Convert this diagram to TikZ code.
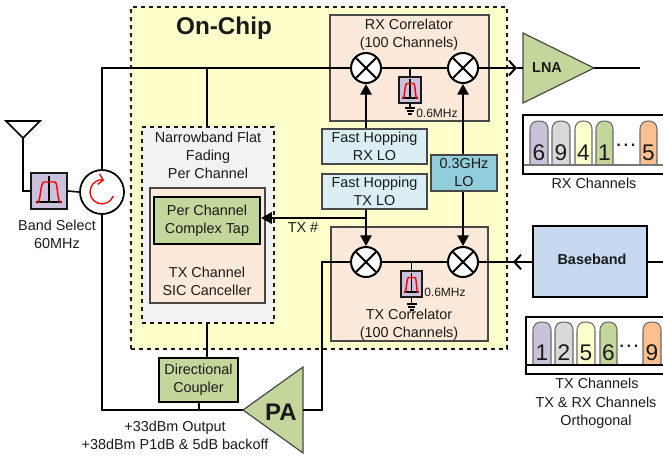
\documentclass[tikz,border=0pt]{standalone}
\usepackage{fontspec}
\setmainfont{Liberation Sans}
\usetikzlibrary{arrows.meta,calc}
\definecolor{ink}{HTML}{1A1A1A}
\definecolor{cyellow}{HTML}{FFFFCC}
\definecolor{cpeach}{HTML}{FDE9D9}
\definecolor{cice}{HTML}{DBEEF4}
\definecolor{cteal}{HTML}{92CDDC}
\definecolor{cgreen}{HTML}{C3D69B}
\definecolor{cpurple}{HTML}{CCC1DA}
\definecolor{cblue}{HTML}{C6D9F1}
\definecolor{cgrey}{HTML}{F2F2F2}
\definecolor{cpill}{HTML}{D9D9D9}
\definecolor{corange}{HTML}{FAC090}
\tikzset{
  txt/.style={font=\fontsize{10.8}{13.5}\selectfont,text=ink,align=center,inner sep=0pt},
  small/.style={font=\fontsize{9}{11}\selectfont,text=ink,inner sep=0pt},
  boldlab/.style={font=\fontsize{10.8}{13}\selectfont\bfseries,text=ink,inner sep=0pt},
  wire/.style={draw=black,line width=1.5pt},
  arrowwire/.style={wire,-{Triangle[length=8pt,width=8.5pt]}},
  openwire/.style={wire,-{Straight Barb[length=5pt,width=11pt,line width=1.5pt]}},
  thinbox/.style={draw=ink!80,line width=0.9pt,txt},
  thickbox/.style={draw=black,line width=1.7pt,txt},
  mixer/.style={circle,draw=black,fill=white,line width=1.5pt,minimum size=22.5pt,inner sep=0pt,
    path picture={\draw[black,line width=1.5pt]
      (path picture bounding box.north west)--(path picture bounding box.south east)
      (path picture bounding box.north east)--(path picture bounding box.south west);}},
  filtbox/.style={draw=ink,fill=cpurple,line width=1.1pt},
  pillnum/.style={font=\fontsize{17}{17}\selectfont,text=ink,inner sep=0pt},
  frameline/.style={draw=black,line width=1.8pt}
}
\newcommand\pxbox[7]{%
  \pgfmathsetmacro\bw{((#5)-(#3))*0.75}\pgfmathsetmacro\bh{((#6)-(#4))*0.75}%
  \node[#2,minimum width=\bw pt,minimum height=\bh pt,inner sep=0pt] (#1) at ({((#3)+(#5))/2},{((#4)+(#6))/2}) {#7};}
\newcommand\filt[5]{%
  \pxbox{#1}{filtbox}{#2-#4}{#3-#5}{#2+#4}{#3+#5}{}%
  \begin{scope}[shift={(#2,#3)},xscale=#4/18,yscale=#5/18]
    \draw[black,line width=1.1pt] (0,-15)--(0,12) (-13,11)--(13,11);
    \draw[red,line width=1.1pt] (-12,12) .. controls (-8,12) and (-9,-9) .. (-5,-9) -- (6,-9) .. controls (9,-9) and (8,12) .. (12,12);
  \end{scope}}
\newcommand\gnd[3]{%
  \coordinate (#1) at (#2,#3);
  \draw[black,line width=0.9pt] (#2-5,#3)--(#2+5,#3) (#2-3.5,#3+3)--(#2+3.5,#3+3) (#2-2,#3+6)--(#2+2,#3+6);}
\newcommand\pill[8]{% name x1 x2 ytop ybot colour digit ydigit
  \draw[draw=ink!65,line width=0.8pt,fill=#6] (#2,#5) -- (#2,#4+9) .. controls (#2,#4+2) and (#2+4,#4) .. ({(#2+#3)/2},#4) .. controls (#3-4,#4) and (#3,#4+2) .. (#3,#4+9) -- (#3,#5) -- cycle;
  \node[pillnum] (#1) at ({(#2+#3)/2},#8) {#7};}
\begin{document}
\begin{tikzpicture}[x=0.75pt,y=-0.75pt]
\useasboundingbox (0,0) rectangle (663,455);
% chip area
\pxbox{chip}{draw=ink,dashed,fill=cyellow,line width=0.8pt}{131}{7}{507}{349}{}
\node[font=\fontsize{18.2}{20}\selectfont\bfseries,text=ink,inner sep=0pt] (onchip) at (224,28) {On-Chip};
\pxbox{rxcorr}{thinbox,fill=cpeach}{330}{15}{489}{121}{}
\pxbox{txcorr}{thinbox,fill=cpeach}{331}{227}{488}{341}{}
\node[txt] (rxtitle) at (409,35) {RX Correlator\\(100 Channels)};
\node[txt] (txtitle) at (409,325) {TX Correlator\\(100 Channels)};
% canceller
\pxbox{flat}{draw=ink,dashed,fill=cgrey,line width=0.8pt}{142}{127}{274}{323}{}
\node[txt] (flattxt) at (208,155.5) {Narrowband Flat\\Fading\\Per Channel};
\pxbox{sic}{thinbox,fill=cpeach}{150}{188}{265}{303}{}
\pxbox{tap}{thickbox,fill=cgreen}{154}{197}{260}{244}{Per Channel\\Complex Tap}
\node[txt] (sictxt) at (207,281.5) {TX Channel\\SIC Canceller};
% LO boxes
\pxbox{rxlo}{thinbox,fill=cice}{322}{129}{427}{164}{Fast Hopping\\RX LO}
\pxbox{txlo}{thinbox,fill=cice}{322}{174}{427}{209}{Fast Hopping\\TX LO}
\pxbox{lo}{thinbox,fill=cteal}{431}{155}{497}{191}{0.3GHz\\LO}
% mixers
\node[mixer] (mRL) at (366,68) {};
\node[mixer] (mRR) at (463,68) {};
\node[mixer] (mTL) at (366,262) {};
\node[mixer] (mTR) at (463,262) {};
% filters
\filt{fRX}{410}{90}{11}{13}
\filt{fTX}{411.5}{284}{10.5}{13}
\filt{fBS}{49}{191}{18}{18}
\gnd{gRX}{410}{108}
\gnd{gTX}{411.5}{304}
\node[small,anchor=west] (mhzRX) at (416,113) {0.6MHz};
\node[small,anchor=west] (mhzTX) at (424,292) {0.6MHz};
\draw[black,line width=0.9pt] (fRX.south)--(gRX) (fTX.south)--(gTX);
\coordinate (tapRX) at (fRX.north |- mRL.east);
\coordinate (tapTX) at (fTX.north |- mTL.east);
\draw[wire,line width=1.1pt] (tapRX)--(fRX.north) (tapTX)--(fTX.north);
% LNA, PA, coupler, baseband
\coordinate (lnaIn) at (523,68);
\coordinate (lnaOut) at (594,68);
\coordinate (lnaEnd) at (640,68);
\draw[draw=ink!80,fill=cgreen,line width=0.9pt] (523,33)--(lnaOut)--(523,103)--cycle;
\node[boldlab] (lna) at (547,68) {LNA};
\coordinate (paIn) at (243,410);
\coordinate (paOut) at (303,410);
\draw[draw=ink!80,fill=cgreen,line width=0.9pt] (303,367)--(paIn)--(303,453)--cycle;
\node[font=\fontsize{18}{20}\selectfont\bfseries,text=ink,inner sep=0pt] (pa) at (281,412) {PA};
\pxbox{coupler}{thickbox,line width=1.1pt,fill=cgreen}{159}{358}{238}{402}{Directional\\Coupler}
\pxbox{bb}{thickbox,fill=cblue}{533}{226}{647}{297}{}
\node[boldlab] (bbl) at (592,259) {Baseband};
% circulator and antenna
\node[circle,draw=black,fill=white,line width=1.3pt,minimum size=33pt,inner sep=0pt] (circ) at (102,192) {};
\draw[red,line width=1pt,-{Straight Barb[length=3.5pt,width=8pt,line width=1pt]}] (113.3,196) arc[start angle=-20,end angle=-280,radius=9pt];
\coordinate (antApex) at (23,138);
\coordinate (antL) at (6,121);
\coordinate (antR) at (40,121);
\coordinate (antTurn) at (23,191);
\draw[wire,line width=1.2pt,line join=miter] (antL)--(antR)--(antApex)--cycle;
\draw[wire,line width=1.2pt] (antApex)--(antTurn)--(fBS.west);
\draw[wire,line width=1.2pt] (fBS.east)--(circ.west);
% main wires
\coordinate (rxTop) at (102,68);
\coordinate (paBus) at (102,410);
\coordinate (rxSplit) at (207,68);
\coordinate (cplTap) at (199,410);
\coordinate (paTurn) at (322,410);
\coordinate (txTurn) at (322,262);
\coordinate (lnaTip) at (517,68);
\coordinate (bbTip) at (513,262);
\coordinate (bbEnd) at (663,262);
\coordinate (txSplit) at (366,218);
\draw[wire] (circ.north)--(rxTop)--(mRL.west);
\draw[wire] (circ.south)--(paBus)--(paIn);
\draw[wire] (mRL.east)--(mRR.west);
\draw[wire] (mTL.east)--(mTR.west);
\draw[wire] (rxSplit)--(rxSplit |- flat.north);
\draw[wire,line width=1.1pt] (rxSplit |- flat.south)--(rxSplit |- coupler.north);
\draw[wire,line width=1.1pt] (cplTap |- coupler.south)--(cplTap);
\draw[wire] (paOut)--(paTurn)--(txTurn)--(mTL.west);
\draw[openwire] (mRR.east)--(lnaTip);
\draw[wire] (lnaTip)--(lnaIn);
\draw[wire] (lnaOut)--(lnaEnd);
\draw[wire] (bb.west |- bbEnd)--(mTR.east);
\draw[openwire] (523,262)--(bbTip);
\draw[wire] (bb.east |- bbEnd)--(bbEnd);
\draw[arrowwire] (rxlo.north -| mRL.south)--(mRL.south);
\draw[arrowwire] (lo.north -| mRR.south)--(mRR.south);
\draw[arrowwire] (lo.south -| mTR.north)--(mTR.north);
\draw[arrowwire] (txlo.south -| mTL.north)--(mTL.north);
\draw[arrowwire] (txSplit)--(txSplit -| tap.east);
\node[txt] (txnum) at (303,228) {TX \#};
% RX channels
\draw[frameline,fill=white] (670,115)--(523,115)--(523,174)--(670,174);
\pill{r1}{530}{548}{121}{165}{cpurple}{6}{153}
\pill{r2}{552}{570}{121}{165}{cpill}{9}{153}
\pill{r3}{575}{592}{121}{165}{cyellow}{4}{153}
\pill{r4}{596}{613}{121}{165}{cgreen}{1}{153}
\pill{r5}{640}{657}{121}{165}{corange}{5}{153}
\draw[draw=ink!60,line width=1.2pt] (524,165)--(670,165);
\node[pillnum,anchor=base] (rdots) at (626,146) {…};
\node[txt] (rxch) at (594,183) {RX Channels};
% TX channels
\draw[frameline,fill=white] (670,317)--(526,317)--(526,374)--(670,374);
\pill{t1}{533}{551}{322}{365}{cpurple}{1}{353}
\pill{t2}{555}{573}{322}{365}{cpill}{2}{353}
\pill{t3}{577}{595}{322}{365}{cyellow}{5}{353}
\pill{t4}{600}{617}{322}{365}{cgreen}{6}{353}
\pill{t5}{643}{661}{322}{365}{corange}{9}{353}
\draw[draw=black,line width=1pt] (526,365)--(670,365);
\node[pillnum,anchor=base] (tdots) at (629,347) {…};
\node[txt] (txch) at (597,383) {TX Channels};
\node[txt] (ortho) at (596,413) {TX \& RX Channels\\Orthogonal};
% free labels
\node[txt] (bstxt) at (57,234) {Band Select\\60MHz};
\node[txt] (patxt) at (175,435) {+33dBm Output\\+38dBm P1dB \& 5dB backoff};
\end{tikzpicture}
\end{document}
